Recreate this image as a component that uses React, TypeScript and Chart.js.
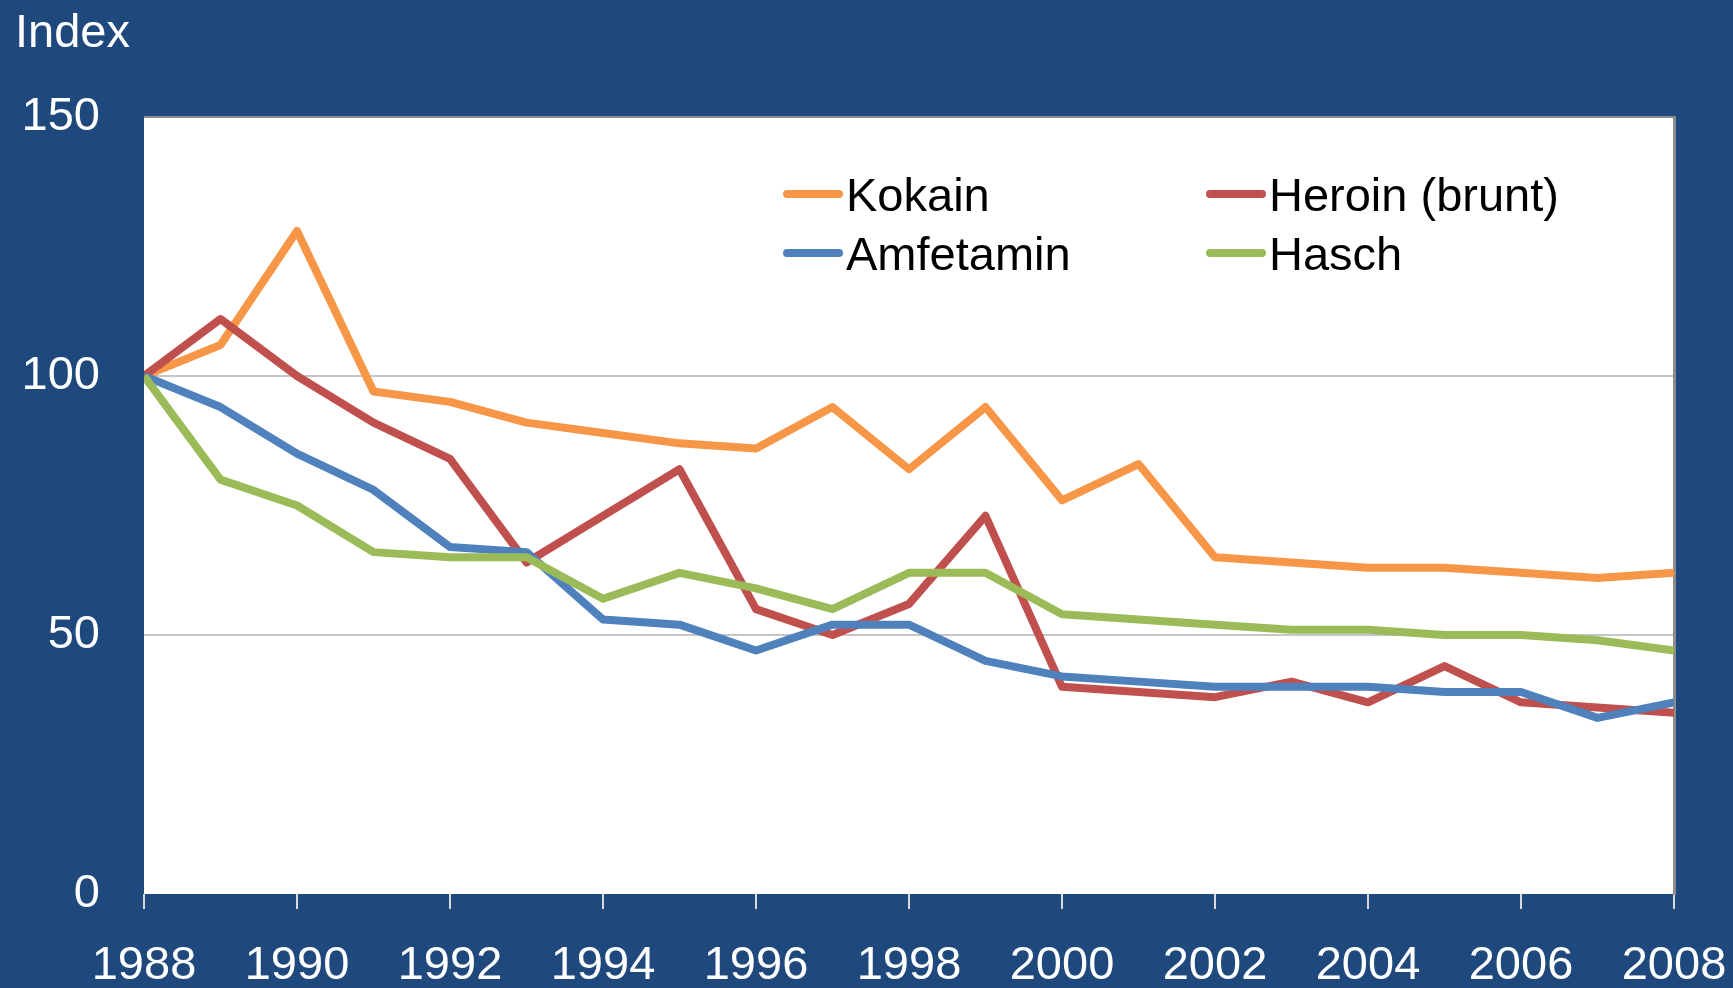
import React, { useEffect, useRef } from "react";
import { Chart, registerables } from "chart.js";

Chart.register(...registerables);

// ---- Data ----
const years = [1988, 1989, 1990, 1991, 1992, 1993, 1994, 1995, 1996, 1997, 1998, 1999, 2000, 2001, 2002, 2003, 2004, 2005, 2006, 2007, 2008];
const kokain = [100, 106, 128, 97, 95, 91, 89, 87, 86, 94, 82, 94, 76, 83, 65, 64, 63, 63, 62, 61, 62];
const heroin = [100, 111, 100, 91, 84, 64, 73, 82, 55, 50, 56, 73, 40, 39, 38, 41, 37, 44, 37, 36, 35];
const amfetamin = [100, 94, 85, 78, 67, 66, 53, 52, 47, 52, 52, 45, 42, 41, 40, 40, 40, 39, 39, 34, 37];
const hasch = [100, 80, 75, 66, 65, 65, 57, 62, 59, 55, 62, 62, 54, 53, 52, 51, 51, 50, 50, 49, 47];

const seriesNames = ["Kokain", "Heroin (brunt)", "Amfetamin", "Hasch"];
const seriesColors = ["#F79646", "#C0504D", "#4F81BD", "#9BBB59"];
const seriesValues = [kokain, heroin, amfetamin, hasch];
const yTicks = [0, 50, 100, 150];
const yAxisTitle = "Index";

const FONT = "'Liberation Sans', Arial, Helvetica, sans-serif";
const BG = "#1F497D";

const plotBg = {
  id: "plotBg",
  beforeDraw(chart: any) {
    const { ctx, chartArea } = chart;
    ctx.save();
    ctx.fillStyle = "#FFFFFF";
    ctx.fillRect(chartArea.left, chartArea.top, chartArea.right - chartArea.left, chartArea.bottom - chartArea.top);
    ctx.restore();
  },
};

const textAndLegend = {
  id: "textAndLegend",
  afterDraw(chart: any) {
    const { ctx } = chart;
    ctx.save();
    // y-axis title
    ctx.font = `47px ${FONT}`;
    ctx.fillStyle = "#FFFFFF";
    ctx.textAlign = "left";
    ctx.textBaseline = "alphabetic";
    ctx.fillText(yAxisTitle, 15, 47);

    // legend 2x2
    const cols = [783, 1206];
    const rows = [194, 253];
    const sampleLen = 60;
    chart.data.datasets.forEach((ds: any, i: number) => {
      const col = cols[i % 2];
      const row = rows[Math.floor(i / 2)];
      ctx.strokeStyle = ds.borderColor;
      ctx.lineWidth = 8;
      ctx.lineCap = "round";
      ctx.beginPath();
      ctx.moveTo(col + 4, row);
      ctx.lineTo(col + sampleLen - 4, row);
      ctx.stroke();
      ctx.fillStyle = "#000000";
      ctx.font = `47px ${FONT}`;
      ctx.textBaseline = "alphabetic";
      ctx.fillText(ds.label, col + sampleLen + 3, row + 17);
    });
    ctx.restore();
  },
};

export default function App() {
  const canvasRef = useRef<HTMLCanvasElement | null>(null);

  useEffect(() => {
    if (!canvasRef.current) return;
    const datasets = seriesNames.map((name, i) => ({
      label: name,
      data: years.map((yr, j) => ({ x: yr, y: seriesValues[i][j] })),
      borderColor: seriesColors[i],
      backgroundColor: seriesColors[i],
      borderWidth: 8,
      pointRadius: 0,
      tension: 0,
      borderJoinStyle: "round" as const,
      borderCapStyle: "butt" as const,
      order: seriesNames.length - i,
      yAxisID: "y",
    }));

    const chart = new Chart(canvasRef.current, {
      type: "line",
      data: { datasets },
      plugins: [plotBg, textAndLegend],
      options: {
        animation: false,
        responsive: true,
        maintainAspectRatio: false,
        layout: { padding: { top: 117, right: 59, left: 0, bottom: 0 } },
        plugins: {
          legend: { display: false },
          tooltip: { enabled: false },
          title: { display: false },
        },
        scales: {
          x: {
            type: "linear",
            min: years[0],
            max: years[years.length - 1],
            afterFit: (scale: any) => {
              scale.height = 94;
              scale.paddingLeft = 0;
              scale.paddingRight = 0;
            },
            ticks: {
              stepSize: 2,
              color: "#FFFFFF",
              font: { family: FONT, size: 47 },
              padding: 29,
              maxRotation: 0,
              autoSkip: false,
              callback: (v: any) => String(v),
            },
            grid: {
              drawOnChartArea: false,
              drawTicks: true,
              tickLength: 15,
              color: "#D9D9D9",
              lineWidth: 2,
            },
            border: { display: false },
          },
          y: {
            type: "linear",
            position: "left",
            min: yTicks[0],
            max: yTicks[yTicks.length - 1],
            afterFit: (scale: any) => {
              scale.width = 144;
            },
            afterBuildTicks: (scale: any) => {
              scale.ticks = yTicks.map((v) => ({ value: v }));
            },
            ticks: {
              color: "#FFFFFF",
              font: { family: FONT, size: 47 },
              padding: 44,
            },
            grid: {
              drawTicks: false,
              color: (ctx: any) => {
                const v = ctx.tick && ctx.tick.value;
                if (v === yTicks[yTicks.length - 1]) return "#8C8C8C";
                if (v === yTicks[0]) return "rgba(0,0,0,0)";
                return "#C6C6C6";
              },
              lineWidth: 2,
            },
            border: { display: false },
          },
          y2: {
            type: "linear",
            position: "right",
            min: 0,
            max: 1,
            afterFit: (scale: any) => {
              scale.width = 0;
            },
            ticks: { display: false },
            grid: { drawOnChartArea: false, drawTicks: false },
            border: { display: true, color: "#8C8C8C", width: 3 },
          },
        },
      },
    });
    return () => chart.destroy();
  }, []);

  return (
    <div
      style={{
        position: "fixed",
        left: 0,
        top: 0,
        width: 1733,
        height: 988,
        background: BG,
      }}
    >
      <canvas ref={canvasRef} />
    </div>
  );
}
